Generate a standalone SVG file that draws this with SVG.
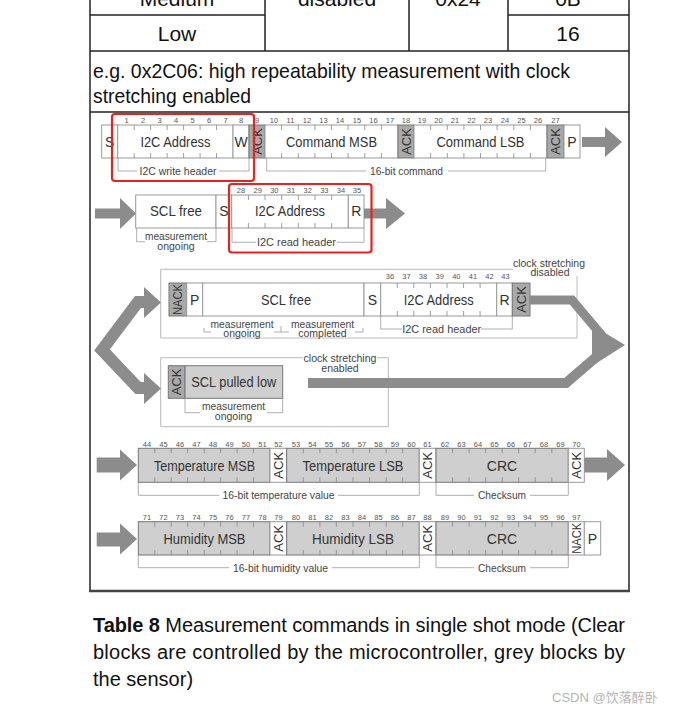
<svg xmlns="http://www.w3.org/2000/svg" width="675" height="717" viewBox="0 0 675 717">
<style>
text{font-family:"Liberation Sans",Arial,sans-serif}
.big{font-size:21px;fill:#111}
.cap{font-size:20px;fill:#111}
.lb{font-size:14px;fill:#333;text-anchor:middle}
.bn{font-size:7.5px;fill:#555;text-anchor:middle}
.sm{font-size:10.5px;fill:#444;text-anchor:middle}
.rt{font-size:13px;fill:#333;text-anchor:middle}
.cell{fill:#fff;stroke:#999;stroke-width:1}
.gcell{fill:#cfcfcf;stroke:#777;stroke-width:1}
.dcell{fill:#a9a9a9;stroke:#777;stroke-width:1}
.tick{stroke:#888;stroke-width:0.8}
.br{fill:none;stroke:#999;stroke-width:0.8}
.frame{fill:none;stroke:#bbb;stroke-width:1}
.arr{fill:#8c8c8c}
.arrl{fill:none;stroke:#8c8c8c;stroke-linejoin:miter}
.red{fill:none;stroke:#e8231f;stroke-width:2.2}
</style>
<rect x="0" y="0" width="675" height="717" fill="#fff"/>

<g id="table" stroke="#222" stroke-width="1.5" fill="none">
<line x1="90" y1="0" x2="90" y2="592"/>
<line x1="629" y1="0" x2="629" y2="592"/>
<line x1="265" y1="0" x2="265" y2="51"/>
<line x1="409" y1="0" x2="409" y2="51"/>
<line x1="508" y1="0" x2="508" y2="51"/>
<line x1="90" y1="15" x2="265" y2="15"/>
<line x1="508" y1="15" x2="629" y2="15"/>
<line x1="90" y1="51" x2="629" y2="51"/>
<line x1="90" y1="112" x2="629" y2="112"/>
<line x1="89" y1="591" x2="630" y2="591" stroke-width="2.5" stroke="#444"/>
</g>
<g id="table-text" class="big" text-anchor="middle">
<text x="177" y="6">Medium</text>
<text x="337" y="6">disabled</text>
<text x="458" y="6">0x24</text>
<text x="568" y="6">0B</text>
<text x="177" y="41">Low</text>
<text x="568" y="41">16</text>
<text x="93" y="78" text-anchor="start" textLength="477" lengthAdjust="spacingAndGlyphs">e.g. 0x2C06: high repeatability measurement with clock</text>
<text x="93" y="103" text-anchor="start" textLength="158" lengthAdjust="spacingAndGlyphs">stretching enabled</text>
</g>

<!-- Row 1 -->
<g id="r1-s"><rect class="cell" x="101.7" y="125" width="16" height="33"/><text class="lb" x="109.7" y="146.5">S</text></g>
<g id="r1-addr"><rect class="cell" x="117.7" y="125" width="115.3" height="33"/><text class="lb" x="175.4" y="146.5" textLength="70" lengthAdjust="spacingAndGlyphs">I2C Address</text></g>
<g id="r1-w"><rect class="cell" x="233" y="125" width="16" height="33"/><text class="lb" x="241" y="146.5">W</text></g>
<g id="r1-ack1"><rect class="dcell" x="249" y="125" width="16" height="33"/><text class="rt" transform="translate(261.6,141.5) rotate(-90)">ACK</text></g>
<g id="r1-cmsb"><rect class="cell" x="265" y="125" width="133" height="33"/><text class="lb" x="331.5" y="146.5" textLength="91" lengthAdjust="spacingAndGlyphs">Command MSB</text></g>
<g id="r1-ack2"><rect class="dcell" x="398" y="125" width="16" height="33"/><text class="rt" transform="translate(410.6,141.5) rotate(-90)">ACK</text></g>
<g id="r1-clsb"><rect class="cell" x="414" y="125" width="133" height="33"/><text class="lb" x="480.5" y="146.5" textLength="88" lengthAdjust="spacingAndGlyphs">Command LSB</text></g>
<g id="r1-ack3"><rect class="dcell" x="547" y="125" width="17" height="33"/><text class="rt" transform="translate(560.1,141.5) rotate(-90)">ACK</text></g>
<g id="r1-p"><rect class="cell" x="564" y="125" width="16" height="33"/><text class="lb" x="572" y="146.5">P</text></g>
<g id="r1-bits" class="bn">
<text x="126.5" y="122.5">1</text><text x="143" y="122.5">2</text><text x="159.5" y="122.5">3</text><text x="176" y="122.5">4</text><text x="192.5" y="122.5">5</text><text x="209" y="122.5">6</text><text x="225.5" y="122.5">7</text><text x="241" y="122.5">8</text><text x="257" y="122.5">9</text>
<text x="274" y="122.5">10</text><text x="290.5" y="122.5">11</text><text x="307" y="122.5">12</text><text x="323.5" y="122.5">13</text><text x="340" y="122.5">14</text><text x="357" y="122.5">15</text><text x="373.5" y="122.5">16</text><text x="390" y="122.5">17</text><text x="406" y="122.5">18</text>
<text x="422" y="122.5">19</text><text x="438.5" y="122.5">20</text><text x="455" y="122.5">21</text><text x="471.5" y="122.5">22</text><text x="488" y="122.5">23</text><text x="505" y="122.5">24</text><text x="521.5" y="122.5">25</text><text x="538" y="122.5">26</text><text x="555.5" y="122.5">27</text>
</g>
<g id="r1-ticks" class="tick">
<path d="M134.2 125v5M150.6 125v5M167.1 125v5M183.6 125v5M200.1 125v5M216.5 125v5M134.2 158v-5M150.6 158v-5M167.1 158v-5M183.6 158v-5M200.1 158v-5M216.5 158v-5"/>
<path d="M281.6 125v5M298.3 125v5M314.9 125v5M331.5 125v5M348.1 125v5M364.8 125v5M381.4 125v5M281.6 158v-5M298.3 158v-5M314.9 158v-5M331.5 158v-5M348.1 158v-5M364.8 158v-5M381.4 158v-5"/>
<path d="M430.6 125v5M447.3 125v5M463.9 125v5M480.5 125v5M497.1 125v5M513.8 125v5M530.4 125v5M430.6 158v-5M447.3 158v-5M463.9 158v-5M480.5 158v-5M497.1 158v-5M513.8 158v-5M530.4 158v-5"/>
</g>
<g id="r1-brackets">
<path class="br" d="M118 158V171H137M219 171H249V158"/>
<text class="sm" x="178" y="175" textLength="77" lengthAdjust="spacingAndGlyphs">I2C write header</text>
<path class="br" d="M266.7 158V171H366M448 171H545.7V158"/>
<text class="sm" x="406.5" y="175" textLength="73" lengthAdjust="spacingAndGlyphs">16-bit command</text>
</g>

<!-- Row 2 -->
<g id="r2-sclfree"><rect class="cell" x="135.7" y="195" width="80.3" height="33"/><text class="lb" x="176" y="216" textLength="52" lengthAdjust="spacingAndGlyphs">SCL free</text></g>
<g id="r2-s"><rect class="cell" x="216" y="195" width="15.7" height="33"/><text class="lb" x="223.8" y="216">S</text></g>
<g id="r2-addr"><rect class="cell" x="231.7" y="195" width="116.6" height="33"/><text class="lb" x="290" y="216" textLength="70" lengthAdjust="spacingAndGlyphs">I2C Address</text></g>
<g id="r2-r"><rect class="cell" x="348.3" y="195" width="15.7" height="33"/><text class="lb" x="356.2" y="216">R</text></g>
<g id="r2-bits" class="bn">
<text x="241" y="193">28</text><text x="257.7" y="193">29</text><text x="274.3" y="193">30</text><text x="291" y="193">31</text><text x="307.7" y="193">32</text><text x="324.3" y="193">33</text><text x="341" y="193">34</text><text x="357" y="193">35</text>
</g>
<g id="r2-ticks" class="tick"><path d="M248.4 195v5M265 195v5M281.7 195v5M298.3 195v5M315 195v5M331.7 195v5M248.4 228v-5M265 228v-5M281.7 228v-5M298.3 228v-5M315 228v-5M331.7 228v-5"/></g>
<g id="r2-brackets">
<path class="br" d="M136.7 228V241.7H145M207 241.7H216V228"/>
<text class="sm" x="176" y="240" textLength="62" lengthAdjust="spacingAndGlyphs">measurement</text>
<text class="sm" x="176" y="249.5">ongoing</text>
<path class="br" d="M232 228V242.3H256M337 242.3H364V228"/>
<text class="sm" x="296.5" y="246" textLength="79" lengthAdjust="spacingAndGlyphs">I2C read header</text>
</g>

<!-- Row 3 upper: clock stretching disabled -->
<g id="r3-frame">
<path class="frame" d="M513 269.3H160.7V338H577V276"/>
<text class="sm" x="549" y="266.5" textLength="72" lengthAdjust="spacingAndGlyphs">clock stretching</text>
<text class="sm" x="550" y="276">disabled</text>
</g>
<g id="r3-nack"><rect class="dcell" x="169" y="283" width="17.7" height="33"/><text class="rt" style="font-size:12px" transform="translate(182,299.5) rotate(-90)" textLength="31" lengthAdjust="spacingAndGlyphs">NACK</text></g>
<g id="r3-p"><rect class="cell" x="186.7" y="283" width="16" height="33"/><text class="lb" x="194.7" y="304.5">P</text></g>
<g id="r3-sclfree"><rect class="cell" x="202.7" y="283" width="161.3" height="33"/><text class="lb" x="286" y="304.5" textLength="50" lengthAdjust="spacingAndGlyphs">SCL free</text></g>
<g id="r3-s"><rect class="cell" x="364" y="283" width="16.7" height="33"/><text class="lb" x="372.3" y="304.5">S</text></g>
<g id="r3-addr"><rect class="cell" x="380.7" y="283" width="116" height="33"/><text class="lb" x="438.7" y="304.5" textLength="70" lengthAdjust="spacingAndGlyphs">I2C Address</text></g>
<g id="r3-r"><rect class="cell" x="496.7" y="283" width="15.6" height="33"/><text class="lb" x="504.5" y="304.5">R</text></g>
<g id="r3-ack"><rect class="dcell" x="512.3" y="283" width="17.7" height="33"/><text class="rt" transform="translate(525.8,299.5) rotate(-90)">ACK</text></g>
<g id="r3-bits" class="bn">
<text x="390" y="279">36</text><text x="406.5" y="279">37</text><text x="423" y="279">38</text><text x="439.7" y="279">39</text><text x="456.3" y="279">40</text><text x="473" y="279">41</text><text x="489.4" y="279">42</text><text x="505.5" y="279">43</text>
</g>
<g id="r3-ticks" class="tick"><path d="M397.3 283v5M413.8 283v5M430.4 283v5M447 283v5M463.6 283v5M480.1 283v5M397.3 316v-5M413.8 316v-5M430.4 316v-5M447 316v-5M463.6 316v-5M480.1 316v-5"/></g>
<g id="r3-brackets">
<path class="br" d="M204 328V332H211M274 332H281M281 326V332M281 332H289M355 332H363V328"/>
<text class="sm" x="242" y="328" textLength="63" lengthAdjust="spacingAndGlyphs">measurement</text>
<text class="sm" x="242" y="337">ongoing</text>
<text class="sm" x="322.5" y="328" textLength="63" lengthAdjust="spacingAndGlyphs">measurement</text>
<text class="sm" x="322.5" y="337">completed</text>
<path class="br" d="M380.7 316V329H402M481 329H512.3V316"/>
<text class="sm" x="441.7" y="332.5" textLength="79" lengthAdjust="spacingAndGlyphs">I2C read header</text>
</g>

<!-- Row 3 lower: clock stretching enabled -->
<g id="r3b-frame">
<path class="frame" d="M303 357.7H160.7V426.7H388.3V357.7H377"/>
<text class="sm" x="340" y="361.5" textLength="73" lengthAdjust="spacingAndGlyphs">clock stretching</text>
<text class="sm" x="340" y="371.5">enabled</text>
</g>
<g id="r3b-ack"><rect class="dcell" x="168.3" y="365.7" width="16.7" height="32.6"/><text class="rt" transform="translate(181.3,382) rotate(-90)">ACK</text></g>
<g id="r3b-scllow"><rect class="gcell" x="185" y="365.7" width="97.7" height="32.6"/><text class="lb" x="233.8" y="387" textLength="85" lengthAdjust="spacingAndGlyphs">SCL pulled low</text></g>
<g id="r3b-brackets">
<path class="br" d="M185 398.3V412.7H200M267 412.7H282.7V398.3"/>
<text class="sm" x="233.5" y="410" textLength="63" lengthAdjust="spacingAndGlyphs">measurement</text>
<text class="sm" x="233.5" y="419.5">ongoing</text>
</g>

<!-- Row 4 -->
<g id="r4-tmsb"><rect class="gcell" x="138.3" y="448.3" width="131.7" height="34"/><text class="lb" x="204.5" y="470.5" textLength="101" lengthAdjust="spacingAndGlyphs">Temperature MSB</text></g>
<g id="r4-ack1"><rect class="cell" x="270" y="448.3" width="16.7" height="34"/><text class="rt" transform="translate(283,465.3) rotate(-90)">ACK</text></g>
<g id="r4-tlsb"><rect class="gcell" x="286.7" y="448.3" width="132.6" height="34"/><text class="lb" x="353" y="470.5" textLength="101" lengthAdjust="spacingAndGlyphs">Temperature LSB</text></g>
<g id="r4-ack2"><rect class="cell" x="419.3" y="448.3" width="16.7" height="34"/><text class="rt" transform="translate(432.3,465.3) rotate(-90)">ACK</text></g>
<g id="r4-crc"><rect class="gcell" x="436" y="448.3" width="132.3" height="34"/><text class="lb" x="502" y="470.5">CRC</text></g>
<g id="r4-ack3"><rect class="cell" x="568.3" y="448.3" width="16" height="34"/><text class="rt" transform="translate(580.9,465.3) rotate(-90)">ACK</text></g>
<g id="r4-bits" class="bn">
<text x="147" y="447">44</text><text x="163.5" y="447">45</text><text x="180" y="447">46</text><text x="196.5" y="447">47</text><text x="213" y="447">48</text><text x="229.5" y="447">49</text><text x="246" y="447">50</text><text x="262.5" y="447">51</text><text x="278.5" y="447">52</text>
<text x="296" y="447">53</text><text x="312.5" y="447">54</text><text x="329" y="447">55</text><text x="345.5" y="447">56</text><text x="362" y="447">57</text><text x="378.5" y="447">58</text><text x="395" y="447">59</text><text x="411.5" y="447">60</text><text x="427.5" y="447">61</text>
<text x="445" y="447">62</text><text x="461.5" y="447">63</text><text x="478" y="447">64</text><text x="494.5" y="447">65</text><text x="511" y="447">66</text><text x="527.5" y="447">67</text><text x="544" y="447">68</text><text x="560.5" y="447">69</text><text x="576.5" y="447">70</text>
</g>
<g id="r4-ticks" class="tick">
<path d="M154.8 448.3v5M171.2 448.3v5M187.7 448.3v5M204.2 448.3v5M220.6 448.3v5M237.1 448.3v5M253.5 448.3v5M154.8 482.3v-5M171.2 482.3v-5M187.7 482.3v-5M204.2 482.3v-5M220.6 482.3v-5M237.1 482.3v-5M253.5 482.3v-5"/>
<path d="M303.3 448.3v5M319.9 448.3v5M336.4 448.3v5M353 448.3v5M369.6 448.3v5M386.2 448.3v5M402.7 448.3v5M303.3 482.3v-5M319.9 482.3v-5M336.4 482.3v-5M353 482.3v-5M369.6 482.3v-5M386.2 482.3v-5M402.7 482.3v-5"/>
<path d="M452.5 448.3v5M469.1 448.3v5M485.6 448.3v5M502.2 448.3v5M518.7 448.3v5M535.2 448.3v5M551.8 448.3v5M452.5 482.3v-5M469.1 482.3v-5M485.6 482.3v-5M502.2 482.3v-5M518.7 482.3v-5M535.2 482.3v-5M551.8 482.3v-5"/>
</g>
<g id="r4-brackets">
<path class="br" d="M138.3 482.3V495.3H219M338 495.3H419.3V482.3"/>
<text class="sm" x="278.5" y="499" textLength="112" lengthAdjust="spacingAndGlyphs">16-bit temperature value</text>
<path class="br" d="M436 482.3V495.3H474M530 495.3H568.3V482.3"/>
<text class="sm" x="502" y="499" textLength="48" lengthAdjust="spacingAndGlyphs">Checksum</text>
</g>

<!-- Row 5 -->
<g id="r5-hmsb"><rect class="gcell" x="138.3" y="521.7" width="131.7" height="33.3"/><text class="lb" x="204.5" y="543.5" textLength="82" lengthAdjust="spacingAndGlyphs">Humidity MSB</text></g>
<g id="r5-ack1"><rect class="cell" x="270" y="521.7" width="16.7" height="33.3"/><text class="rt" transform="translate(283,538.3) rotate(-90)">ACK</text></g>
<g id="r5-hlsb"><rect class="gcell" x="286.7" y="521.7" width="132.6" height="33.3"/><text class="lb" x="353" y="543.5" textLength="82" lengthAdjust="spacingAndGlyphs">Humidity LSB</text></g>
<g id="r5-ack2"><rect class="cell" x="419.3" y="521.7" width="16.7" height="33.3"/><text class="rt" transform="translate(432.3,538.3) rotate(-90)">ACK</text></g>
<g id="r5-crc"><rect class="gcell" x="436" y="521.7" width="132.3" height="33.3"/><text class="lb" x="502" y="543.5">CRC</text></g>
<g id="r5-nack"><rect class="cell" x="568.3" y="521.7" width="16" height="33.3"/><text class="rt" style="font-size:12px" transform="translate(580.6,538.3) rotate(-90)" textLength="31" lengthAdjust="spacingAndGlyphs">NACK</text></g>
<g id="r5-p"><rect class="cell" x="584.3" y="521.7" width="16.4" height="33.3"/><text class="lb" x="592.5" y="543.5">P</text></g>
<g id="r5-bits" class="bn">
<text x="147" y="520">71</text><text x="163.5" y="520">72</text><text x="180" y="520">73</text><text x="196.5" y="520">74</text><text x="213" y="520">75</text><text x="229.5" y="520">76</text><text x="246" y="520">77</text><text x="262.5" y="520">78</text><text x="278.5" y="520">79</text>
<text x="296" y="520">80</text><text x="312.5" y="520">81</text><text x="329" y="520">82</text><text x="345.5" y="520">83</text><text x="362" y="520">84</text><text x="378.5" y="520">85</text><text x="395" y="520">86</text><text x="411.5" y="520">87</text><text x="427.5" y="520">88</text>
<text x="445" y="520">89</text><text x="461.5" y="520">90</text><text x="478" y="520">91</text><text x="494.5" y="520">92</text><text x="511" y="520">93</text><text x="527.5" y="520">94</text><text x="544" y="520">95</text><text x="560.5" y="520">96</text><text x="576.5" y="520">97</text>
</g>
<g id="r5-ticks" class="tick">
<path d="M154.8 521.7v5M171.2 521.7v5M187.7 521.7v5M204.2 521.7v5M220.6 521.7v5M237.1 521.7v5M253.5 521.7v5M154.8 555v-5M171.2 555v-5M187.7 555v-5M204.2 555v-5M220.6 555v-5M237.1 555v-5M253.5 555v-5"/>
<path d="M303.3 521.7v5M319.9 521.7v5M336.4 521.7v5M353 521.7v5M369.6 521.7v5M386.2 521.7v5M402.7 521.7v5M303.3 555v-5M319.9 555v-5M336.4 555v-5M353 555v-5M369.6 555v-5M386.2 555v-5M402.7 555v-5"/>
<path d="M452.5 521.7v5M469.1 521.7v5M485.6 521.7v5M502.2 521.7v5M518.7 521.7v5M535.2 521.7v5M551.8 521.7v5M452.5 555v-5M469.1 555v-5M485.6 555v-5M502.2 555v-5M518.7 555v-5M535.2 555v-5M551.8 555v-5"/>
</g>
<g id="r5-brackets">
<path class="br" d="M138.3 555V567.7H229M332 567.7H419.3V555"/>
<text class="sm" x="280.5" y="571.5" textLength="95" lengthAdjust="spacingAndGlyphs">16-bit humidity value</text>
<path class="br" d="M436 555V567.7H474M530 567.7H568.3V555"/>
<text class="sm" x="502" y="571.5" textLength="48" lengthAdjust="spacingAndGlyphs">Checksum</text>
</g>

<!-- Connectors -->
<g id="connectors">
<polygon class="arr" points="582,137 605,137 605,127 622,142 605,157 605,147 582,147"/>
<polygon class="arr" points="95,208.5 120,208.5 120,198 136,213.5 120,229 120,218.5 95,218.5"/>
<polygon class="arr" points="364,208.5 386,208.5 386,198 405,213.5 386,229 386,218.5 364,218.5"/>
<polyline class="arrl" stroke-width="12" points="147,302 138,302 102,350 138,388 147,388"/>
<polygon class="arr" points="144,287 161,302.5 144,318"/>
<polygon class="arr" points="144,373 161,388.5 144,404"/>
<polyline class="arrl" stroke-width="9" points="530,300 572,300 604,338"/>
<polyline class="arrl" stroke-width="10" points="308,383 566,383 602,352"/>
<polygon class="arr" points="592,325 625,345 592,366"/>
<polygon class="arr" points="96.7,457.5 120,457.5 120,449.5 137,465 120,480.5 120,472.5 96.7,472.5"/>
<polygon class="arr" points="584.3,457.5 607,457.5 607,449 625,465 607,481 607,472.5 584.3,472.5"/>
<polygon class="arr" points="96.7,532.5 120,532.5 120,523.5 137,539 120,554.5 120,546.5 96.7,546.5"/>
</g>

<g id="highlights">
<rect class="red" x="112" y="114" width="142" height="67" rx="3"/>
<rect class="red" x="229" y="184" width="142.5" height="68.5" rx="3"/>
</g>

<g id="caption" class="cap">
<text x="93" y="632" textLength="532" lengthAdjust="spacing"><tspan font-weight="bold">Table 8</tspan> Measurement commands in single shot mode (Clear</text>
<text x="93" y="659" textLength="532" lengthAdjust="spacing">blocks are controlled by the microcontroller, grey blocks by</text>
<text x="93" y="686">the sensor)</text>
</g>
<text x="552" y="702" style="font-family:'Liberation Sans','Noto Sans CJK SC',sans-serif;font-size:13px;fill:#b4b4b4">CSDN @饮落醉卧</text>
</svg>
